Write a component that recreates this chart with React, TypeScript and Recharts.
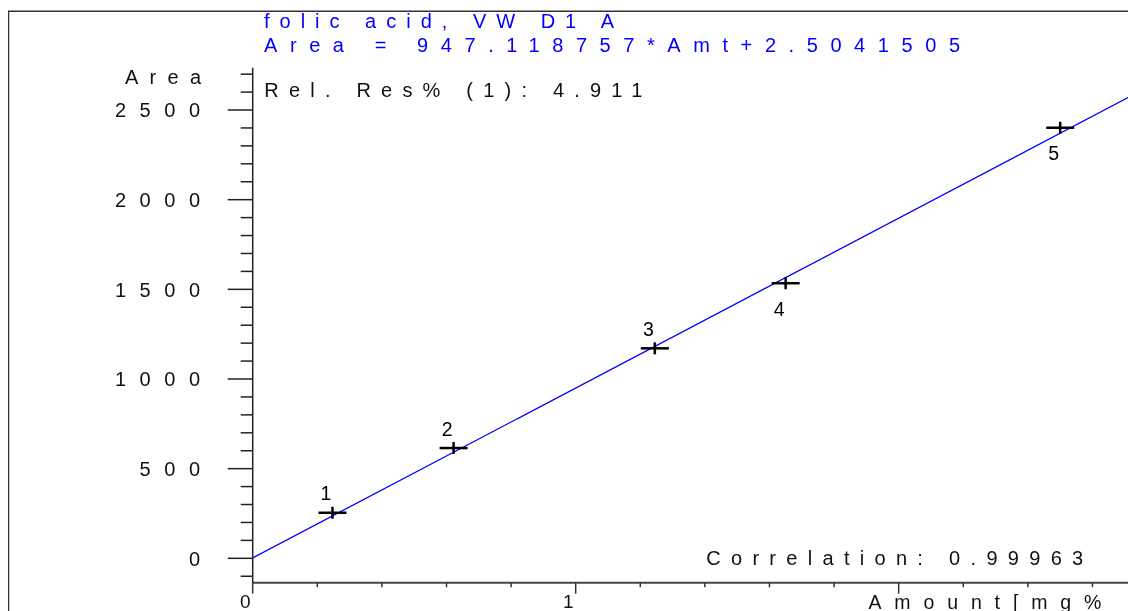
import React from 'react';
import { ScatterChart, Scatter, XAxis, YAxis, ReferenceLine } from 'recharts';

// calibration points
const pointIds = [1, 2, 3, 4, 5];
const amounts = [0.247, 0.622, 1.245, 1.65, 2.5];
const areas = [254, 615, 1171, 1534, 2401];

// fitted line: Area = slope * Amt + intercept
const slope = 947.118757;
const intercept = 2.5041505;

const xTicks = [0, 0.2, 0.4, 0.6, 0.8, 1, 1.2, 1.4, 1.6, 1.8, 2, 2.2, 2.4, 2.6];
const xLabelled = [0, 1];
const yTicks = [-100, 0, 100, 200, 300, 400, 500, 600, 700, 800, 900, 1000, 1100, 1200, 1300, 1400, 1500, 1600, 1700, 1800, 1900, 2000, 2100, 2200, 2300, 2400, 2500, 2600, 2700];
const xMax = 2.71;
const yMin = -136;
const yMax = 2736;

const compound = 'folic acid, VW D1 A';
const equation = 'Area = 947.118757*Amt+2.5041505';
const relRes = 'Rel. Res% (1): 4.911';
const correlation = 'Correlation: 0.99963';
const xTitle = 'Amount[mg%';
const yTitle = 'Area';

const FONT = '"Liberation Sans", Arial, sans-serif';
const W = 1120;
const H = 603;

const data = amounts.map((amt, i) => ({ amt, area: areas[i], id: pointIds[i] }));

const YTick = (props: any) => {
  const { x, y, payload } = props;
  const v = payload.value;
  const major = v % 500 === 0;
  const label = String(v);
  const len = 24.7 * (label.length - 1) + 11;
  return (
    <g>
      <line x1={x - (major ? 25 : 12)} x2={x} y1={y} y2={y} stroke="#222" strokeWidth={1.5} />
      {major && (
        <text x={x - 52.7 - len} y={y + 7.3} fontSize={20} fontFamily={FONT} fill="#111"
          textLength={label.length > 1 ? len : undefined} lengthAdjust="spacing">
          {label}
        </text>
      )}
    </g>
  );
};

const XTick = (props: any) => {
  const { x, y, payload } = props;
  const v = payload.value;
  const major = Number.isInteger(v);
  return (
    <g>
      <line x1={x} x2={x} y1={y} y2={y + (major ? 11 : 4.5)} stroke="#333" strokeWidth={1.5} />
      {xLabelled.includes(v) && (
        <text x={x - 7.5} y={y + 25.3} textAnchor="middle" fontSize={19} fontFamily={FONT} fill="#111">
          {v}
        </text>
      )}
    </g>
  );
};

const Cross = (props: any) => {
  const { cx, cy, payload } = props;
  const below = payload.id >= 4;
  return (
    <g>
      <line x1={cx - 14} x2={cx + 14} y1={cy} y2={cy} stroke="#000" strokeWidth={2.5} />
      <line x1={cx} x2={cx} y1={cy - 6} y2={cy + 6} stroke="#000" strokeWidth={2.5} />
      <text x={cx - 6.5} y={below ? cy + 32.5 : cy - 12.5} textAnchor="middle" fontSize={19.5}
        fontFamily={FONT} fill="#000">
        {payload.id}
      </text>
    </g>
  );
};

const Spaced = ({ x, y, len, color = '#111', size = 20, children }: any) => (
  <text x={x} y={y} fontSize={size} fontFamily={FONT} fill={color} textLength={len} lengthAdjust="spacing">
    {children}
  </text>
);

export default function App() {
  return (
    <div style={{ position: 'fixed', left: 8, top: 8, width: W, height: H, overflow: 'hidden' }}>
      <style>{'html,body{overflow:hidden;}'}</style>
      <ScatterChart width={W} height={H} margin={{ top: 59.7, right: 0, bottom: 0, left: 0 }}>
        <XAxis type="number" dataKey="amt" domain={[0, xMax]} ticks={xTicks} allowDataOverflow
          height={28.3} tickSize={0} tickMargin={0} tick={<XTick />} tickLine={false}
          axisLine={{ stroke: '#444', strokeWidth: 2 }} interval={0} />
        <YAxis type="number" dataKey="area" domain={[yMin, yMax]} ticks={yTicks} allowDataOverflow
          width={244.7} tickSize={0} tickMargin={0} tick={<YTick />} tickLine={false}
          axisLine={{ stroke: '#222', strokeWidth: 1.5 }} interval={0} />
        <ReferenceLine
          segment={[{ x: 0, y: intercept }, { x: xMax, y: slope * xMax + intercept }]}
          stroke="#0000ff" strokeWidth={1.3} />
        <Scatter data={data} shape={<Cross />} isAnimationActive={false} />
      </ScatterChart>
      <svg width={W} height={H} style={{ position: 'absolute', left: 0, top: 0, pointerEvents: 'none' }}>
        <line x1={0} x2={W} y1={3.3} y2={3.3} stroke="#333" strokeWidth={1.5} />
        <line x1={0.5} x2={0.5} y1={3.3} y2={H} stroke="#333" strokeWidth={1.5} />
        <Spaced x={256} y={20.3} len={350} color="#0000ff">{compound}</Spaced>
        <Spaced x={256} y={44.3} len={696} color="#0000ff">{equation}</Spaced>
        <Spaced x={256.3} y={88.7} len={378}>{relRes}</Spaced>
        <Spaced x={117} y={76.3} len={76}>{yTitle}</Spaced>
        <Spaced x={698.2} y={557} len={377}>{correlation}</Spaced>
        <Spaced x={860.4} y={600.5} len={233} size={19.5}>{xTitle}</Spaced>
      </svg>
    </div>
  );
}
